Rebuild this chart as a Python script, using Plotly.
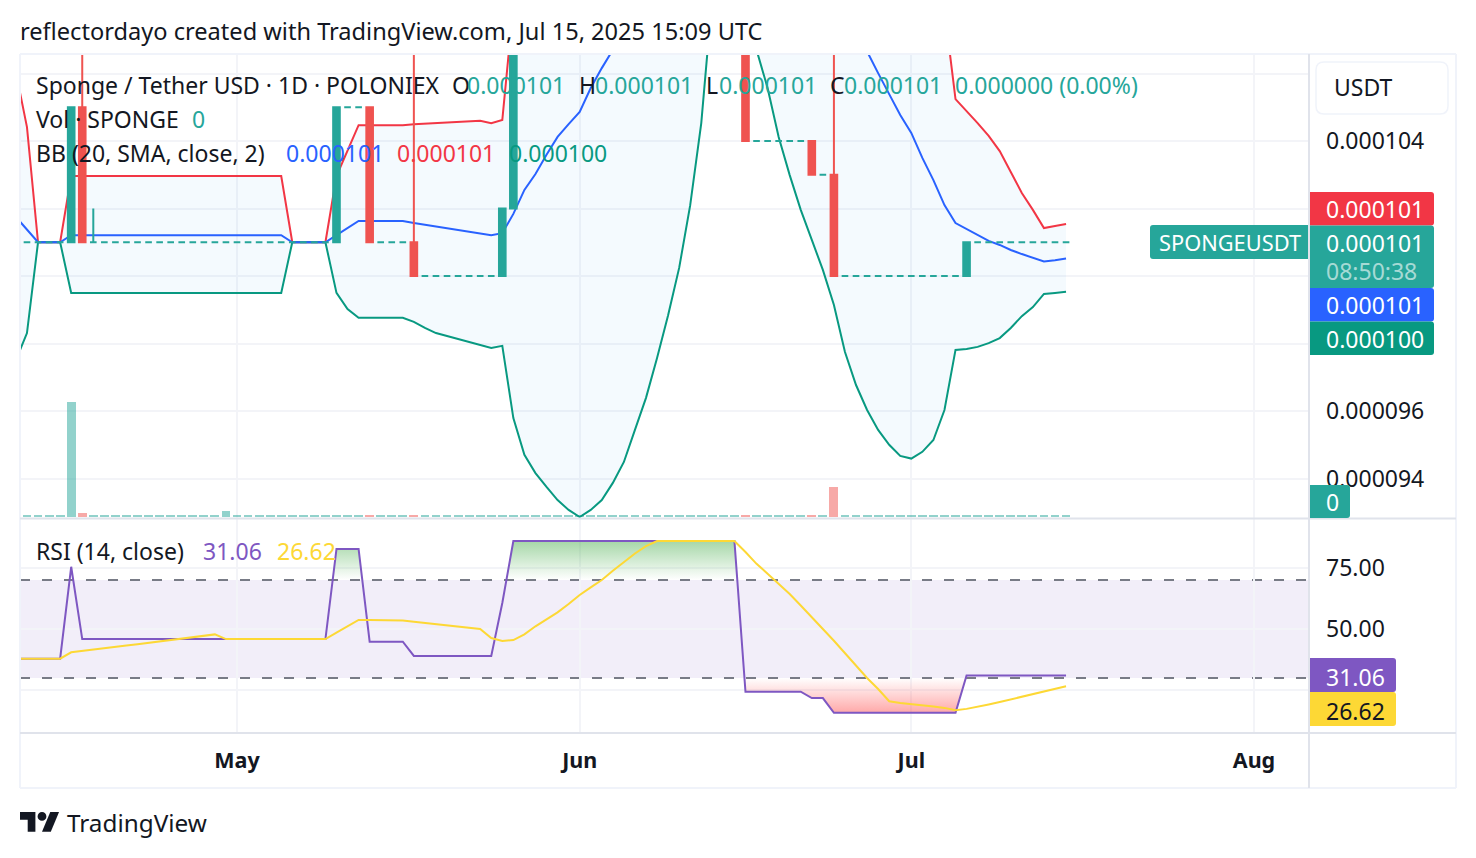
import numpy as np
import pandas as pd
import plotly.graph_objects as go

W, H = 1476, 858
FONT = "Noto Sans"
INK = "#131722"
UP = "#26a69a"
DOWN = "#ef5350"
UNIT = 1e-6

dates = pd.date_range("2025-04-11", "2025-07-15", freq="D")

# Daily prices, in millionths of a USDT (11 Apr - 15 Jul 2025)
opens = [
    101, 101, 101, 101, 101, 101, 105, 101, 101, 101, 101, 101, 101, 101, 101, 101, 101, 101, 101, 101,
    101, 101, 101, 101, 101, 101, 101, 101, 101, 101, 105, 105, 105, 101, 101, 101,
    101, 100, 100, 100, 100, 100, 100, 100, 100, 102, 113, 113, 113, 113, 113,
    113, 113, 113, 113, 113, 113, 113, 113, 113, 113, 113, 113, 113, 113, 113,
    113, 104, 104, 104, 104, 104, 104, 103, 103, 100, 100, 100, 100, 100, 100,
    100, 100, 100, 100, 100, 100, 101, 101, 101, 101, 101, 101, 101, 101, 101,
]
closes = [
    101, 101, 101, 101, 101, 105, 101, 101, 101, 101, 101, 101, 101, 101, 101, 101, 101, 101, 101, 101,
    101, 101, 101, 101, 101, 101, 101, 101, 101, 105, 105, 105, 101, 101, 101, 101,
    100, 100, 100, 100, 100, 100, 100, 100, 102, 113, 113, 113, 113, 113, 113,
    113, 113, 113, 113, 113, 113, 113, 113, 113, 113, 113, 113, 113, 113, 113,
    104, 104, 104, 104, 104, 104, 103, 103, 100, 100, 100, 100, 100, 100, 100,
    100, 100, 100, 100, 100, 101, 101, 101, 101, 101, 101, 101, 101, 101, 101,
]
wick_highs = {"2025-04-17": 113, "2025-04-18": 102, "2025-05-17": 113, "2025-06-24": 113}

# Tiny turnover everywhere, with one large print in April
volumes = [
    1.7, 1.7, 1.7, 1.7, 1.7, 115, 3.7, 1.7, 1.7, 1.7, 1.7, 1.7, 1.7, 1.7, 1.7, 1.7, 1.7, 1.7, 1.7, 5.7,
    1.7, 1.7, 1.7, 1.7, 1.7, 1.7, 1.7, 1.7, 1.7, 1.7, 1.7, 1.7, 1.7, 1.7, 1.7, 1.7,
    1.7, 1.7, 1.7, 1.7, 1.7, 1.7, 1.7, 1.7, 1.7, 1.7, 1.7, 1.7, 1.7, 1.7, 1.7,
    1.7, 1.7, 1.7, 1.7, 1.7, 1.7, 1.7, 1.7, 1.7, 1.7, 1.7, 1.7, 1.7, 1.7, 1.7,
    1.7, 1.7, 1.7, 1.7, 1.7, 1.7, 1.7, 1.7, 30, 1.7, 1.7, 1.7, 1.7, 1.7, 1.7,
    1.7, 1.7, 1.7, 1.7, 1.7, 1.7, 1.7, 1.7, 1.7, 1.7, 1.7, 1.7, 1.7, 1.7, 1.7,
]

# Bollinger bands (20, SMA, close, 2)
bb_upper = [
    106.04, 104.41, 101.0, 101.0, 101.0, 102.96, 102.96, 102.96, 102.96, 102.96,
    102.96, 102.96, 102.96, 102.96, 102.96, 102.96, 102.96, 102.96, 102.96, 102.96,
    102.96, 102.96, 102.96, 102.96, 102.96, 101.0, 101.0, 101.0, 101.0, 102.96,
    103.73, 104.47, 104.47, 104.47, 104.47, 104.47,
    104.50, 104.52, 104.54, 104.56, 104.58, 104.59, 104.60, 104.53, 104.62, 108.03,
    110.4, 111.7, 112.8, 113.7, 114.2,
    114.9, 115.4, 115.6, 115.6, 115.4, 115.3, 115.1, 114.8, 114.5, 114.2,
    113.8, 113.4, 113.0, 112.6, 112.2, 115.0, 115.5, 115.6, 115.6, 115.5,
    115.3, 115.2, 115.0, 114.8, 114.3, 113.8, 113.4, 112.9, 112.4, 111.9,
    111.4, 110.9, 109.5, 107.9, 105.24, 104.89, 104.53, 104.15, 103.70, 103.08,
    102.46, 101.96, 101.42, 101.48, 101.54,
]
bb_basis = [
    101.75, 101.36, 101.0, 101.0, 101.0, 101.21, 101.21, 101.21, 101.21, 101.21,
    101.21, 101.21, 101.21, 101.21, 101.21, 101.21, 101.21, 101.21, 101.21, 101.21,
    101.21, 101.21, 101.21, 101.21, 101.21, 101.0, 101.0, 101.0, 101.0, 101.21,
    101.42, 101.63, 101.63, 101.63, 101.63, 101.63,
    101.57, 101.52, 101.48, 101.43, 101.38, 101.33, 101.27, 101.21, 101.27, 101.84,
    102.55, 103.02, 103.59, 104.12, 104.50,
    104.86, 105.57, 106.16, 106.70, 107.3, 107.9, 108.5, 109.1, 109.6, 110.1,
    110.6, 111.0, 111.4, 111.7, 112.0, 111.8, 111.4, 111.0, 110.6, 110.1,
    109.7, 109.3, 108.9, 108.4, 107.9, 107.3, 106.64, 106.01, 105.39, 104.77,
    104.24, 103.50, 102.84, 102.10, 101.57, 101.39, 101.21, 101.04, 100.92, 100.77,
    100.65, 100.53, 100.43, 100.47, 100.52,
]
bb_lower = [
    97.51, 98.31, 101.0, 101.0, 101.0, 99.50, 99.50, 99.50, 99.50, 99.50,
    99.50, 99.50, 99.50, 99.50, 99.50, 99.50, 99.50, 99.50, 99.50, 99.50,
    99.50, 99.50, 99.50, 99.50, 99.50, 101.0, 101.0, 101.0, 101.0, 99.50,
    99.02, 98.76, 98.76, 98.76, 98.76, 98.76,
    98.64, 98.46, 98.31, 98.22, 98.13, 98.04, 97.96, 97.87, 97.93, 95.79,
    94.70, 94.16, 93.75, 93.36, 93.07,
    92.86, 93.07, 93.36, 93.87, 94.49, 95.44, 96.39, 97.57, 98.84, 100.24,
    102.10, 104.53, 108.3, 110.0, 111.5, 108.18, 106.70, 105.57, 104.12, 102.99,
    101.96, 101.07, 100.18, 99.14, 97.75, 96.77, 96.03, 95.44, 95.0, 94.67,
    94.59, 94.79, 95.14, 96.03, 97.81, 97.84, 97.90, 98.01, 98.16, 98.46,
    98.81, 99.08, 99.47, 99.50, 99.53,
]

# RSI (14, close) and its moving average
rsi = [
    37.9, 37.9, 37.9, 37.9, 37.9, 75.4, 45.9, 45.9, 45.9, 45.9,
    45.9, 45.9, 45.9, 45.9, 45.9, 45.9, 45.9, 45.9, 45.9, 45.9,
    45.9, 45.9, 45.9, 45.9, 45.9, 45.9, 45.9, 45.9, 45.9, 82.7,
    82.7, 82.7, 44.8, 44.8, 44.8, 44.8,
    39.0, 39.0, 39.0, 39.0, 39.0, 39.0, 39.0, 39.0, 60.6, 85.9,
    85.9, 85.9, 85.9, 85.9, 85.9,
    85.9, 85.9, 85.9, 85.9, 85.9, 85.9, 85.9, 85.9, 85.9, 85.9,
    85.9, 85.9, 85.9, 85.9, 85.9, 24.4, 24.4, 24.4, 24.4, 24.4,
    24.4, 21.8, 21.8, 15.8, 15.8, 15.8, 15.8, 15.8, 15.8, 15.8,
    15.8, 15.8, 15.8, 15.8, 15.8, 31.06, 31.06, 31.06, 31.06, 31.06,
    31.06, 31.06, 31.06, 31.06, 31.06,
]
rsi_ma = [
    37.9, 37.9, 37.9, 37.9, 37.9, 40.5, 41.0, 41.6, 42.1, 42.7,
    43.3, 43.8, 44.4, 44.9, 45.5, 46.0, 46.6, 47.2, 47.8, 45.9,
    45.9, 45.9, 45.9, 45.9, 45.9, 45.9, 45.9, 45.9, 45.9, 48.5,
    51.1, 53.7, 53.7, 53.6, 53.6, 53.5,
    53.0, 52.5, 52.0, 51.6, 51.2, 50.7, 50.0, 46.3, 45.1, 45.5,
    47.8, 51.1, 54.0, 56.8, 60.2,
    63.9, 67.0, 70.0, 73.8, 77.3, 80.8, 83.8, 85.9, 85.9, 85.9,
    85.9, 85.9, 85.9, 85.9, 85.9, 81.4, 76.6, 72.6, 68.5, 64.3,
    59.6, 55.0, 50.0, 45.2, 40.2, 35.3, 30.0, 25.5, 20.5, 19.8,
    19.4, 18.9, 18.4, 17.8, 16.8, 17.4, 18.2, 19.2, 20.2, 21.3,
    22.3, 23.3, 24.4, 25.5, 26.62,
]

price_ticks = [94, 96, 98, 100, 102, 104, 106]
price_tick_text = ["0.000094", "0.000096", "", "", "", "0.000104", ""]
rsi_ticks = [25, 50, 75]
rsi_tick_text = ["", "50.00", "75.00"]
month_ticks = ["2025-05-01", "2025-06-01", "2025-07-01", "2025-08-01"]
month_text = ["<b>May</b>", "<b>Jun</b>", "<b>Jul</b>", "<b>Aug</b>"]


def px(x):
    return x / W


def py(y):
    return 1 - y / H


def clip_region(values, level, above):
    """Polygon vertices of the part of a day-indexed line beyond a level."""
    xs, ys = [], []
    inside = False
    for i, v in enumerate(values):
        now = v > level if above else v < level
        if i > 0 and now != inside:
            t = (level - values[i - 1]) / (v - values[i - 1])
            xs.append(dates[0] + pd.Timedelta(days=i - 1 + t))
            ys.append(level)
            if inside:
                xs.append(None)
                ys.append(None)
        if now:
            xs.append(dates[i])
            ys.append(v)
        inside = now
    return xs, ys


def rounded(x0, y0, x1, y1, left=0, right=3):
    return (
        f"M{px(x0 + left)},{py(y0)} L{px(x1 - right)},{py(y0)} "
        f"Q{px(x1)},{py(y0)} {px(x1)},{py(y0 + right)} L{px(x1)},{py(y1 - right)} "
        f"Q{px(x1)},{py(y1)} {px(x1 - right)},{py(y1)} L{px(x0 + left)},{py(y1)} "
        f"Q{px(x0)},{py(y1)} {px(x0)},{py(y1 - left)} L{px(x0)},{py(y0 + left)} "
        f"Q{px(x0)},{py(y0)} {px(x0 + left)},{py(y0)} Z"
    )


fig = go.Figure()

# Volume sits at the back of the upper pane
vol_colors = [
    "rgba(239,83,80,0.5)" if c < o else "rgba(38,166,154,0.5)" for o, c in zip(opens, closes)
]
fig.add_trace(go.Bar(x=dates, y=volumes, marker=dict(color=vol_colors, line_width=0),
                     width=0.8 * 86400000, yaxis="y"))

# Bollinger bands with the shaded channel
arr = lambda v: np.array(v) * UNIT
fig.add_trace(go.Scatter(x=dates, y=arr(bb_upper), mode="lines", line=dict(color="#f23645", width=2), yaxis="y3"))
fig.add_trace(go.Scatter(x=dates, y=arr(bb_lower), mode="lines", line=dict(color="#089981", width=2), yaxis="y3",
                         fill="tonexty", fillcolor="rgba(33,150,243,0.05)"))
fig.add_trace(go.Scatter(x=dates, y=arr(bb_basis), mode="lines", line=dict(color="#2962ff", width=2), yaxis="y3"))

# Candles: rising and flat days in one trace, falling days in another
highs = [max(wick_highs.get(str(d.date()), 0), o, c) for d, o, c in zip(dates, opens, closes)]
lows = [min(o, c) for o, c in zip(opens, closes)]
for is_down, color in ((False, UP), (True, DOWN)):
    idx = [i for i in range(len(dates)) if (closes[i] < opens[i]) == is_down]
    style = dict(line=dict(color=color, width=2), fillcolor=color)
    fig.add_trace(go.Candlestick(
        x=dates[idx], open=arr(opens)[idx], high=arr(highs)[idx], low=arr(lows)[idx], close=arr(closes)[idx],
        increasing=style, decreasing=style, whiskerwidth=0, yaxis="y4",
    ))

# RSI pane: overbought and oversold fills, then the two lines
ob_x, ob_y = clip_region(rsi, 70, True)
os_x, os_y = clip_region(rsi, 30, False)
fig.add_trace(go.Scatter(x=ob_x, y=ob_y, mode="none", fill="toself", yaxis="y2",
                         fillgradient=dict(type="vertical", start=70, stop=85.9,
                                           colorscale=[[0, "rgba(76,175,80,0)"], [1, "rgba(76,175,80,0.5)"]])))
fig.add_trace(go.Scatter(x=os_x, y=os_y, mode="none", fill="toself", yaxis="y2",
                         fillgradient=dict(type="vertical", start=30, stop=15.8,
                                           colorscale=[[0, "rgba(255,82,82,0)"], [1, "rgba(255,82,82,0.5)"]])))
fig.add_trace(go.Scatter(x=dates, y=rsi, mode="lines", line=dict(color="#7e57c2", width=2), yaxis="y2"))
fig.add_trace(go.Scatter(x=dates, y=rsi_ma, mode="lines", line=dict(color="#fdd835", width=2), yaxis="y2"))

# RSI guide band and dashed levels
fig.add_shape(type="rect", xref="paper", yref="y2", x0=px(20), x1=px(1308), y0=30, y1=70,
              fillcolor="rgba(126,87,194,0.1)", line_width=0, layer="below")
for level, col in ((70, "#787b86"), (50, "rgba(120,123,134,0.5)"), (30, "#787b86")):
    fig.add_shape(type="line", xref="paper", yref="y2", x0=px(20), x1=px(1308), y0=level, y1=level,
                  line=dict(color=col, width=2, dash="10px,12px"), layer="below")

# Pane frame
FRAME = "#f0f3fa"
SEP = "#e0e3eb"
for x0, y0, x1, y1, col in [
    (20, 54, 1456, 54, FRAME), (20, 54, 20, 788, FRAME), (1456, 54, 1456, 788, FRAME), (20, 788, 1456, 788, FRAME),
    (20, 518.5, 1456, 518.5, SEP), (20, 733, 1456, 733, SEP), (1309, 54, 1309, 788, SEP),
]:
    fig.add_shape(type="line", xref="paper", yref="paper", x0=px(x0), x1=px(x1), y0=py(y0), y1=py(y1),
                  line=dict(color=col, width=2))

# Last-value tags on the price scale
for x0, y0, x1, y1, col, left, right in [
    (1310, 192, 1434, 225.5, "#f23645", 0, 3),
    (1310, 225.5, 1434, 288, UP, 0, 3),
    (1310, 288, 1434, 321.5, "#2962ff", 0, 3),
    (1310, 321.5, 1434, 355, "#089981", 0, 3),
    (1150, 225, 1308, 259, UP, 3, 0),
    (1310, 485, 1350, 518, UP, 0, 3),
    (1310, 658, 1396, 692, "#7e57c2", 0, 3),
    (1310, 692, 1396, 726, "#fdd835", 0, 3),
]:
    fig.add_shape(type="path", xref="paper", yref="paper", path=rounded(x0, y0, x1, y1, left, right),
                  fillcolor=col, line_width=0)

# Currency button
fig.add_shape(type="path", xref="paper", yref="paper", path=rounded(1316, 62, 1448, 114, 8, 8),
              fillcolor="#ffffff", line=dict(color="#f0f3fa", width=1.5))


# Brand mark
def logo(points):
    return "M" + " L".join(f"{px(20 + (a * 1.1))},{py(812 + (b - 4) * 1.1)}" for a, b in points) + " Z"


fig.add_shape(type="path", xref="paper", yref="paper", fillcolor="#131722", line_width=0,
              path=logo([(14, 22), (7, 22), (7, 11), (0, 11), (0, 4), (14, 4)]))
fig.add_shape(type="path", xref="paper", yref="paper", fillcolor="#131722", line_width=0,
              path=logo([(28, 22), (20, 22), (27.5, 4), (35.5, 4)]))
fig.add_shape(type="circle", xref="paper", yref="paper", fillcolor="#131722", line_width=0,
              x0=px(20 + 16 * 1.1), x1=px(20 + 24 * 1.1), y0=py(812), y1=py(812 + 8 * 1.1))

TEXT_SIZE = 23
labels = [
    ("Sponge / Tether USD · 1D · POLONIEX", 35, 84.5, INK),
    ("O", 451, 84.5, INK), ("0.000101", 466, 84.5, UP),
    ("H", 578, 84.5, INK), ("0.000101", 594, 84.5, UP),
    ("L", 705, 84.5, INK), ("0.000101", 718, 84.5, UP),
    ("C", 829, 84.5, INK), ("0.000101", 843, 84.5, UP),
    ("0.000000 (0.00%)", 954, 84.5, UP),
    ("Vol · SPONGE", 35, 118.5, INK), ("0", 191, 118.5, UP),
    ("BB (20, SMA, close, 2)", 35, 152.5, INK),
    ("0.000101", 285, 152.5, "#2962ff"), ("0.000101", 396, 152.5, "#f23645"), ("0.000100", 508, 152.5, "#089981"),
    ("RSI (14, close)", 35, 550.5, INK), ("31.06", 202, 550.5, "#7e57c2"), ("26.62", 276, 550.5, "#fdd835"),
    ("USDT", 1333, 87.5, INK),
    ("0.000101", 1325, 208.5, "#ffffff"),
    ("0.000101", 1325, 242.5, "#ffffff"),
    ("08:50:38", 1325, 270.5, "rgba(255,255,255,0.6)"),
    ("0.000101", 1325, 304.5, "#ffffff"),
    ("0.000100", 1325, 338.5, "#ffffff"),
    ("0", 1325, 501.5, "#ffffff"),
    ("31.06", 1325, 676.5, "#ffffff"),
    ("26.62", 1325, 710.5, INK),
]
for text, x, y, col in labels:
    fig.add_annotation(text=text, xref="paper", yref="paper", x=px(x), y=py(y), xanchor="left", yanchor="middle",
                       showarrow=False, borderpad=0, font=dict(family=FONT, size=TEXT_SIZE, color=col))
fig.add_annotation(text="SPONGEUSDT", xref="paper", yref="paper", x=px(1157.5), y=py(242.5), xanchor="left",
                   yanchor="middle", showarrow=False, borderpad=0, font=dict(family=FONT, size=21.8, color="#ffffff"))
fig.add_annotation(text="reflectordayo created with TradingView.com, Jul 15, 2025 15:09 UTC", xref="paper",
                   yref="paper", x=px(19), y=py(30.5), xanchor="left", yanchor="middle", showarrow=False, borderpad=0,
                   font=dict(family=FONT, size=23.6, color=INK))
fig.add_annotation(text="TradingView", xref="paper", yref="paper", x=px(65.5), y=py(822), xanchor="left",
                   yanchor="middle", showarrow=False, borderpad=0, font=dict(family=FONT, size=24.3, color=INK))

# Axis scales
x_start = pd.Timestamp("2025-05-01") - pd.Timedelta(days=217 / 11.054)
x_end = pd.Timestamp("2025-05-01") + pd.Timedelta(days=1071 / 11.054)
top_domain = [1 - 518 / H, 1 - 54 / H]
price_range = [(108.178 - 518 / 33.75) * UNIT, (108.178 - 54 / 33.75) * UNIT]
GRID = "#f3f4f8"
fig.update_layout(
    width=W, height=H, autosize=False, margin=dict(l=0, r=0, t=0, b=0),
    paper_bgcolor="#ffffff", plot_bgcolor="rgba(0,0,0,0)", showlegend=False, bargap=0, barmode="overlay",
    boxgap=0.4, boxgroupgap=0, boxmode="overlay",
    font=dict(family=FONT, size=TEXT_SIZE, color=INK),
    xaxis=dict(domain=[px(20), px(1308)], range=[x_start, x_end], anchor="y2", rangeslider=dict(visible=False),
               tickmode="array", tickvals=month_ticks, ticktext=month_text, showgrid=True, gridcolor=GRID, gridwidth=2,
               ticks="", ticklabelstandoff=12, zeroline=False, showline=False, tickfont=dict(size=21.5)),
    yaxis=dict(domain=top_domain, range=[-1.3, 462.7], visible=False, fixedrange=True),
    yaxis2=dict(domain=[1 - 733 / H, 1 - 519 / H], range=[50 - 104 / 2.45, 50 + 110 / 2.45], anchor="x", side="right",
                tickmode="array", tickvals=rsi_ticks, ticktext=rsi_tick_text, showgrid=True, gridcolor=GRID, gridwidth=2,
                ticks="", ticklabelstandoff=17, zeroline=False, showline=False),
    yaxis3=dict(domain=top_domain, range=price_range, overlaying="y", anchor="x", side="right",
                tickmode="array", tickvals=arr(price_ticks), ticktext=price_tick_text, showgrid=True, gridcolor=GRID,
                gridwidth=2, ticks="", ticklabelstandoff=17, zeroline=False, showline=False),
    yaxis4=dict(domain=top_domain, range=price_range, overlaying="y", anchor="x", visible=False),
)
fig.write_html("out.html")
